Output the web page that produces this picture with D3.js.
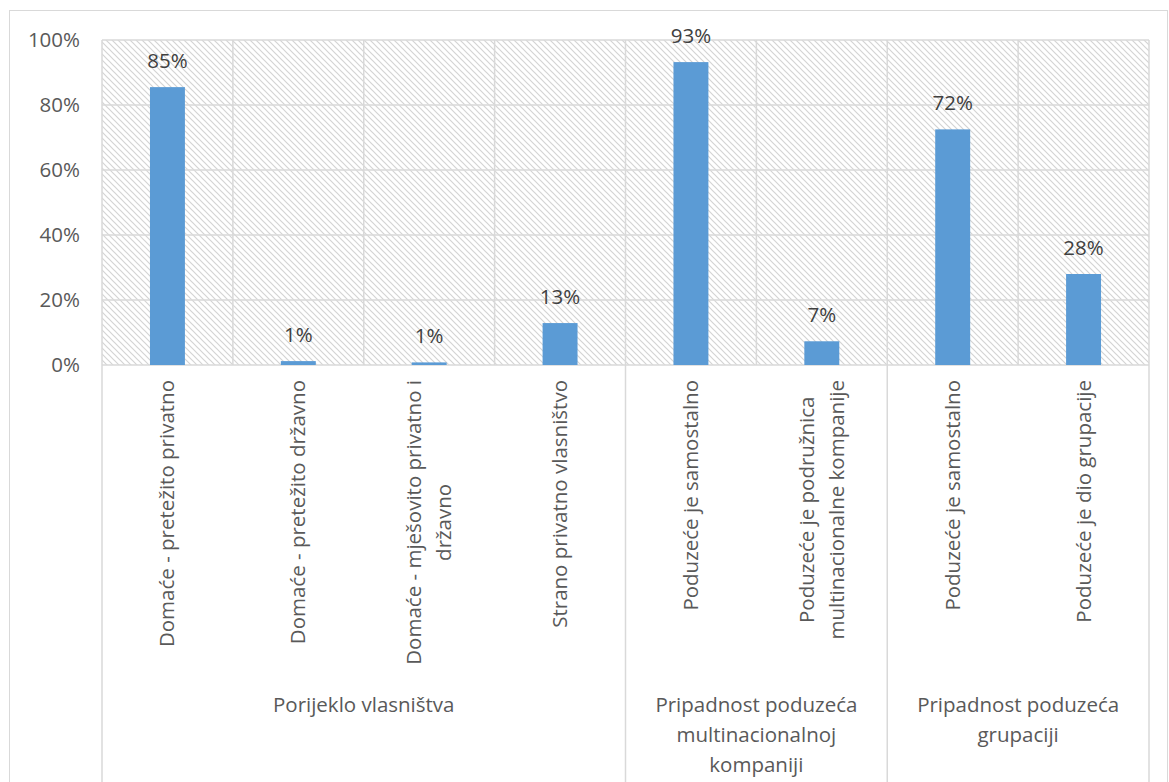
<!DOCTYPE html>
<html><head><meta charset="utf-8">
<script src="https://cdn.jsdelivr.net/npm/d3@7"></script>
<style>body{margin:0;background:#fff}svg{display:block}</style>
</head><body>
<script>
const categories = [
  ["Domaće - pretežito privatno"],
  ["Domaće - pretežito državno"],
  ["Domaće - mješovito privatno i", "državno"],
  ["Strano privatno vlasništvo"],
  ["Poduzeće je samostalno"],
  ["Poduzeće je podružnica", "multinacionalne kompanije"],
  ["Poduzeće je samostalno"],
  ["Poduzeće je dio grupacije"]
];
const values = [0.855, 0.012, 0.008, 0.129, 0.932, 0.073, 0.725, 0.28];
const valueLabels = ["85%", "1%", "1%", "13%", "93%", "7%", "72%", "28%"];
const groups = [
  {label: ["Porijeklo vlasništva"], start: 0, end: 4},
  {label: ["Pripadnost poduzeća", "multinacionalnoj", "kompaniji"], start: 4, end: 6},
  {label: ["Pripadnost poduzeća", "grupaciji"], start: 6, end: 8}
];
const yTicks = [0, 0.2, 0.4, 0.6, 0.8, 1.0];

const W = 1169, H = 782;
const L = 102, R = 1149, T = 40, B = 365;
const font = "'Open Sans', sans-serif";
const fs = 20.5;

const svg = d3.select("body").append("svg").attr("width", W).attr("height", H);

const defs = svg.append("defs");
const pat = defs.append("pattern").attr("id", "hatch").attr("patternUnits", "userSpaceOnUse")
  .attr("width", 6).attr("height", 6);
pat.append("path").attr("d", "M-1,-1 L7,7 M-1,5 L1,7 M5,-1 L7,1")
  .attr("stroke", "#d4d4d4").attr("stroke-width", 1.2).attr("fill", "none");

// outer border
svg.append("rect").attr("x", 9.5).attr("y", 10.5).attr("width", 1158).attr("height", 800)
  .attr("fill", "none").attr("stroke", "#d9d9d9").attr("stroke-width", 1);

const idx = d3.range(categories.length);
const xCat = d3.scaleBand().domain(idx).range([L, R]).padding(0);
const xBar = d3.scaleBand().domain(idx).range([L, R]).paddingInner(0.733).paddingOuter(0.3665);
const y = d3.scaleLinear().domain([0, 1]).range([B, T]);

// hatched background
svg.append("rect").attr("x", L).attr("y", T).attr("width", R - L).attr("height", B - T)
  .attr("fill", "url(#hatch)");

// horizontal gridlines
svg.append("g").selectAll("line").data(yTicks).join("line")
  .attr("x1", L).attr("x2", R).attr("y1", d => y(d)).attr("y2", d => y(d))
  .attr("stroke", "#d9d9d9").attr("stroke-width", 1.5);

// vertical category lines in plot
const bounds = d3.range(categories.length + 1).map(i => i < categories.length ? xCat(i) : R);
svg.append("g").selectAll("line").data(bounds).join("line")
  .attr("x1", d => d).attr("x2", d => d).attr("y1", T).attr("y2", B)
  .attr("stroke", "#d9d9d9").attr("stroke-width", 1.5);

// group boundary lines extending down
const gBounds = [0].concat(groups.map(g => g.end)).map(i => i < categories.length ? xCat(i) : R);
svg.append("g").selectAll("line").data(gBounds).join("line")
  .attr("x1", d => d).attr("x2", d => d).attr("y1", B).attr("y2", H)
  .attr("stroke", "#d9d9d9").attr("stroke-width", 1.5);

// y axis labels
const yAxis = d3.axisLeft(y).tickValues(yTicks).tickFormat(d3.format(".0%")).tickSize(0).tickPadding(0);
const ya = svg.append("g").attr("transform", `translate(${80},0)`).call(yAxis);
ya.select(".domain").remove();
ya.selectAll("text").attr("font-family", font).attr("font-size", fs).attr("fill", "#595959");

// bars
svg.append("g").selectAll("rect").data(values).join("rect")
  .attr("x", (d, i) => xBar(i)).attr("width", xBar.bandwidth())
  .attr("y", d => y(d)).attr("height", d => B - y(d))
  .attr("fill", "#5b9bd5");

// value labels
svg.append("g").selectAll("text").data(values).join("text")
  .attr("x", (d, i) => xBar(i) + xBar.bandwidth() / 2)
  .attr("y", d => y(d) - 19)
  .attr("text-anchor", "middle").attr("font-family", font).attr("font-size", fs).attr("fill", "#404040")
  .text((d, i) => valueLabels[i]);

// category labels (rotated)
const lh = 30;
categories.forEach((lines, i) => {
  const cx = xCat(i) + xCat.bandwidth() / 2;
  const g = svg.append("g").attr("transform", `translate(${cx},${380}) rotate(-90)`);
  const t = g.append("text").attr("font-family", font).attr("font-size", fs).attr("fill", "#595959");
  const n = lines.length;
  lines.forEach((ln, j) => {
    t.append("tspan").attr("x", 0).attr("y", (j - (n - 1) / 2) * lh + 7).text(ln);
  });
  const widths = [];
  t.selectAll("tspan").each(function () { widths.push(this.getComputedTextLength()); });
  const maxW = d3.max(widths);
  t.selectAll("tspan").attr("text-anchor", "middle").attr("x", -maxW / 2);
});

// group labels
groups.forEach(gr => {
  const x0 = xCat(gr.start);
  const x1 = gr.end < categories.length ? xCat(gr.end) : R;
  const t = svg.append("text").attr("text-anchor", "middle").attr("font-family", font)
    .attr("font-size", fs).attr("fill", "#595959");
  gr.label.forEach((ln, j) => {
    t.append("tspan").attr("x", (x0 + x1) / 2).attr("y", 712 + j * lh).text(ln);
  });
});
</script>
</body></html>
